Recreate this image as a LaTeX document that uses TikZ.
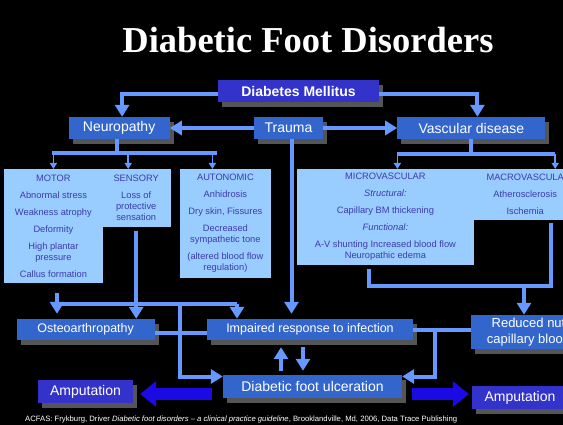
\documentclass[tikz,border=0pt]{standalone}
\usepackage{fontspec}
\setmainfont{Liberation Sans}
\newfontfamily\titlefont{Liberation Serif}
\usetikzlibrary{arrows.meta, positioning, shadows}
\definecolor{boxcolor}{RGB}{51,102,204}
\definecolor{dmcolor}{RGB}{51,51,204}
\definecolor{subcolor}{RGB}{153,204,255}
\definecolor{subtextcolor}{RGB}{60,60,170}
\definecolor{linkcolor}{RGB}{102,153,255}
\definecolor{bigcolor}{RGB}{28,10,228}
\definecolor{shadecolor}{RGB}{85,85,85}

\begin{document}
\begin{tikzpicture}[x=1pt, y=-1pt,
    >={Triangle[width=14pt,length=12pt]},
    blk/.style={
        fill=#1, inner sep=0pt,
        minimum height=22pt,
        text=white, align=center,
        font=\fontsize{14}{16}\selectfont,
        drop shadow={shadow xshift=4pt, shadow yshift=-5pt, fill=shadecolor, opacity=1}
    },
    sub/.style={
        fill=subcolor, draw=subcolor, line width=0.8pt,
        inner sep=0pt, anchor=north west,
        text=subtextcolor, align=center,
        font=\fontsize{9.3}{11}\selectfont
    },
    link/.style={draw=linkcolor, line width=4pt},
    twig/.style={draw=linkcolor, line width=1.8pt, -{Triangle[width=7pt,length=6pt]}},
    bigarrow/.style={draw=bigcolor, line width=12pt, -{Triangle[width=25pt,length=16pt]}}
]

\useasboundingbox (0,0) rectangle (563,425);
\clip (0,0) rectangle (563,425);
\fill[black] (0,0) rectangle (563,425);

% =========================
% TITLE
% =========================
\node[text=white, font=\titlefont\bfseries\fontsize{36.5}{40}\selectfont] (title)
 at (308,40) {Diabetic Foot Disorders};

% =========================
% TOP ROW
% =========================
\node[blk=dmcolor, minimum width=161pt, font=\bfseries\fontsize{14}{16}\selectfont] (dm)
 at (298.5,91) {Diabetes Mellitus};

\node[blk=boxcolor, minimum width=69pt] (trauma) at (288.5,128) {Trauma};
\node[blk=boxcolor, minimum width=101pt, left=84pt of trauma] (neuro) {Neuropathy};
\node[blk=boxcolor, minimum width=148pt, right=74pt of trauma] (vasc) {Vascular disease};

\draw[link, ->] ([yshift=-3pt]dm.west) -| ([xshift=3pt]neuro.north);
\draw[link, ->] ([yshift=-3pt]dm.east) -| ([xshift=6pt]vasc.north);
\draw[link, ->] (trauma.west) -- (neuro.east);
\draw[link, ->] (trauma.east) -- (vasc.west);

% =========================
% NEUROPATHY TYPES
% =========================
\node[sub, minimum width=98pt, minimum height=113pt] (motor) at (4,169)
 {MOTOR\\[6pt]Abnormal stress\\[6pt]Weakness atrophy\\[6pt]Deformity\\[6pt]
  High plantar\\pressure\\[6pt]Callus formation};
\node[sub, minimum width=68pt, minimum height=57pt] (sensory) at ([xshift=-1pt]motor.north east)
 {SENSORY\\[6pt]Loss of\\protective\\sensation};
\node[sub, minimum width=90pt, minimum height=108pt] (autonomic) at (180,169)
 {AUTONOMIC\\[6pt]Anhidrosis\\[6pt]Dry skin, Fissures\\[6pt]Decreased\\sympathetic tone\\[6pt]
  (altered blood flow\\regulation)};

\coordinate (nj) at (117,153);
\coordinate (nl) at (52,153);
\coordinate (nr) at (217,153);
\coordinate (sensin) at ([xshift=-8pt]sensory.north);
\coordinate (autoin) at ([xshift=-13pt]autonomic.north);

\draw[link] (neuro.south -| nj) -- (nj);
\draw[link] (nl) -- (nr);
\draw[twig] (nj -| motor.north) -- (motor.north);
\draw[twig] (nj -| sensin) -- (sensin);
\draw[twig] (nj -| autoin) -- (autoin);

% =========================
% VASCULAR TYPES
% =========================
\node[sub, minimum width=176pt, minimum height=95pt] (micro) at (297,169)
 {MICROVASCULAR\\[6pt]\textit{Structural:}\\[6pt]Capillary BM thickening\\[6pt]
  \textit{Functional:}\\[6pt]A-V shunting Increased blood flow\\Neuropathic edema};
\node[sub, minimum width=104pt, minimum height=50pt] (macro) at ([xshift=-1pt]micro.north east)
 {MACROVASCULA\\[6pt]Atherosclerosis\\[6pt]Ischemia};

\coordinate (vj) at ([yshift=-15pt]vasc.south);
\coordinate (microin) at ([xshift=12pt]micro.north);
\coordinate (macroin) at ([xshift=30pt]macro.north);

\draw[link] (vasc.south) -- (vj);
\draw[link] (vj -| microin) -- (vj -| macroin);
\draw[twig] (vj -| microin) -- (microin);
\draw[twig] (vj -| macroin) -- (macroin);

% =========================
% BOTTOM ROW
% =========================
\node[blk=boxcolor, minimum width=206pt, minimum height=21pt, font=\fontsize{12.5}{15}\selectfont] (impaired)
 at (310,329.5) {Impaired response to infection};
\node[blk=boxcolor, minimum width=138pt, minimum height=21pt, font=\fontsize{12.5}{15}\selectfont,
 left=52pt of impaired] (osteo) {Osteoarthropathy};
\node[blk=boxcolor, minimum width=115pt, minimum height=34pt, font=\fontsize{13}{15.5}\selectfont] (reduced)
 at (528.5,332) {Reduced nut\\capillary blood};
\node[blk=boxcolor, minimum width=179pt, minimum height=23pt] (dfu)
 at (312.5,386.5) {Diabetic foot ulceration};
\node[blk=dmcolor, minimum width=95pt, minimum height=23pt] (ampL) at (85.5,391.5) {Amputation};
\node[blk=dmcolor, minimum width=96pt, minimum height=23pt] (ampR) at (520,397.5) {Amputation};

% trauma straight down
\draw[link, ->, shorten >=5pt] ([xshift=3pt]trauma.south) -- ([xshift=3pt]trauma.south |- impaired.north);

% neuropathy outputs
\coordinate (mj) at (57,304);
\coordinate (ij) at (237,304);
\coordinate (uj) at (180,302);

\draw[link, ->, shorten <=10pt, shorten >=5pt] (motor.south -| mj) -- (osteo.north -| mj);
\draw[link] (mj) -- (ij);
\draw[link, ->] (ij) -- (ij |- impaired.north);
\draw[link, ->, shorten <=4pt] (sensory.south) -- (sensory.south |- osteo.north);
\draw[link, ->] (uj) |- ([yshift=10pt]dfu.west);
\draw[link] ([yshift=-3.5pt]osteo.east) -- ([yshift=-3.5pt]impaired.west);

% vascular outputs
\coordinate (vb) at (524,286);
\draw[link] ([xshift=-16pt, yshift=-4pt]micro.south) |- (vb) -| ([xshift=26pt, yshift=-3pt]macro.south);
\draw[link, ->] (vb) -- (vb |- reduced.north);

% infection <-> ulcer
\coordinate (upx) at ([xshift=-29pt]impaired.south);
\coordinate (dnx) at ([xshift=-7pt]impaired.south);
\draw[link, ->, shorten <=4pt, shorten >=7pt] (upx |- dfu.north) -- (upx);
\draw[link, ->, shorten <=7pt, shorten >=4pt] (dnx) -- (dnx |- dfu.north);

\draw[link] (impaired.east) -- (impaired.east -| reduced.west);
\coordinate (rj) at ([xshift=22pt]impaired.east);
\draw[link, ->] (rj) |- ([yshift=10pt]dfu.east);

% amputation
\coordinate (bl) at ([yshift=-7.5pt]dfu.west);
\coordinate (br) at ([yshift=-7.5pt]dfu.east);
\draw[bigarrow, shorten <=11pt, shorten >=7pt] (bl) -- (bl -| ampL.east);
\draw[bigarrow, shorten <=10pt, shorten >=3pt] (br) -- (br -| ampR.west);

% =========================
% SOURCE
% =========================
\node[text=white, font=\fontsize{7.7}{8}\selectfont, anchor=west, inner sep=0pt] (cite) at (25,419.5)
 {ACFAS: Frykburg, Driver \textit{Diabetic foot disorders -- a clinical practice guideline}, Brooklandville, Md, 2006, Data Trace Publishing};

\end{tikzpicture}
\end{document}
